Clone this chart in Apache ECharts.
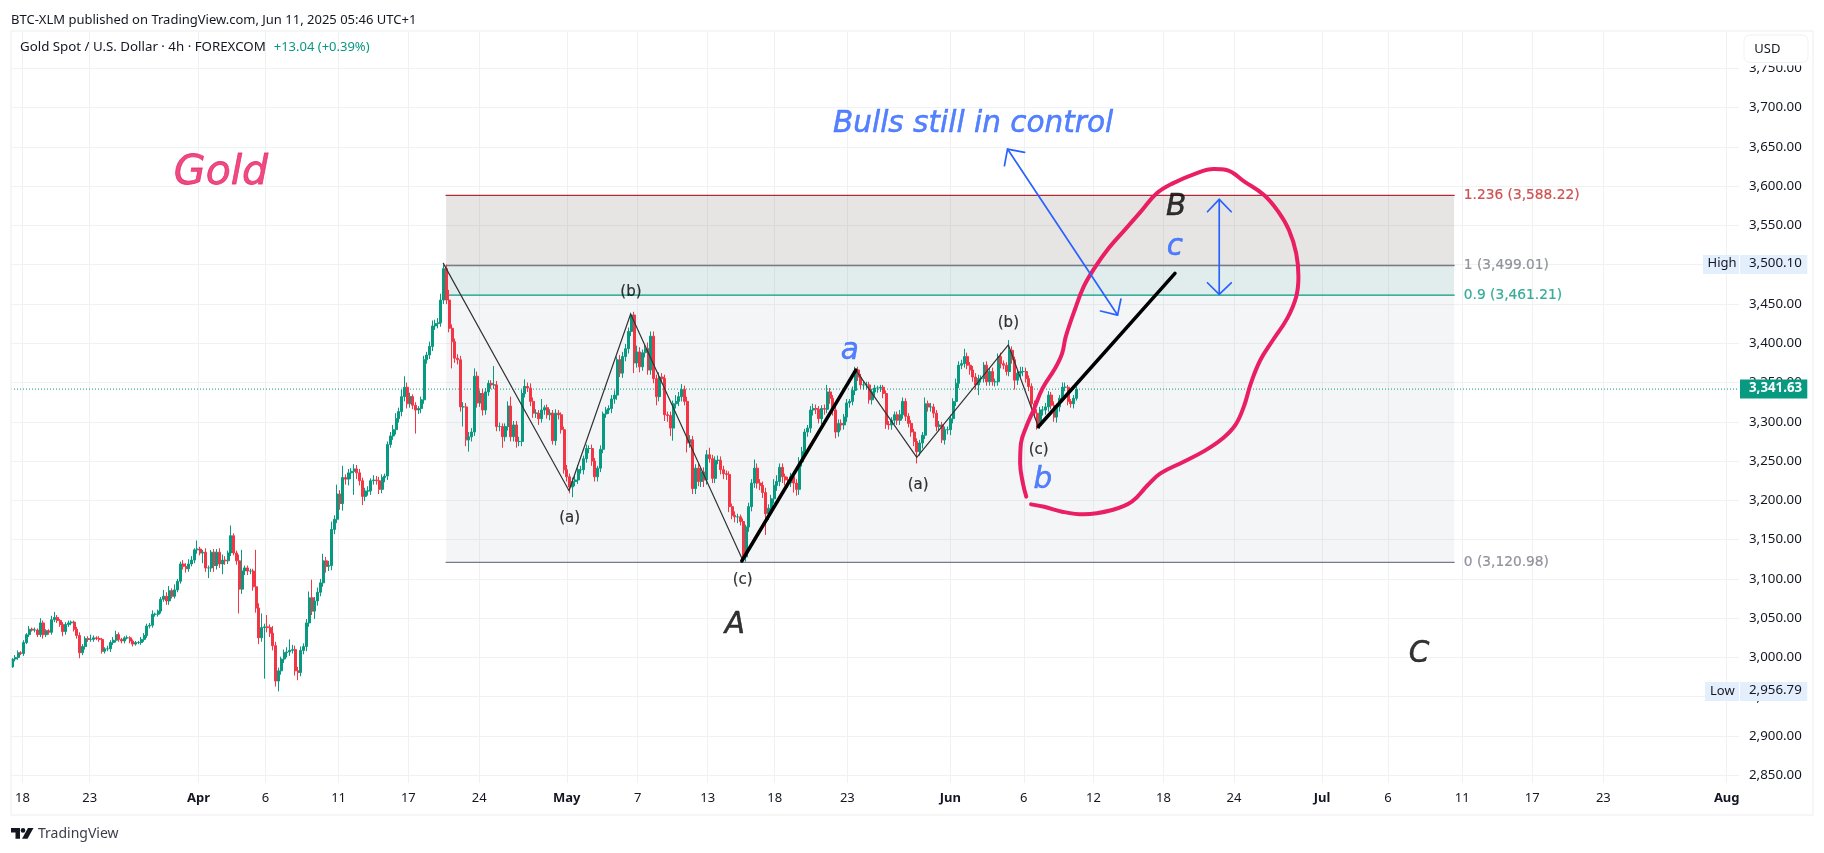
<!DOCTYPE html>
<html><head><meta charset="utf-8">
<style>html,body{margin:0;padding:0;background:#fff}#c{width:1824px;height:853px}</style>
<script src="https://cdn.jsdelivr.net/npm/echarts@6/dist/echarts.min.js"></script>
</head><body><div id="c"></div>
<script>
// ---- values ----
const firstOpen = 2988;
const closes = [
2998,3000,3006,3005,3019,3029,3036,3035,3035,3029,3044,3029,3034,3032,3048,3051,3047,3042,3033,3042,
3044,3045,3036,3028,3006,3014,3024,3023,3023,3025,3024,3023,3008,3011,3011,3019,3022,3029,3023,3021,
3025,3025,3021,3017,3019,3019,3023,3028,3040,3041,3055,3055,3059,3074,3078,3072,3085,3078,3086,3097,
3119,3116,3113,3119,3124,3137,3138,3133,3134,3114,3114,3134,3117,3134,3119,3124,3123,3133,3155,3133,
3123,3087,3110,3114,3110,3110,3090,3063,3025,3038,3039,3038,3031,3015,2970,2983,2998,3006,3007,3009,
3010,2983,2981,3009,3014,3044,3076,3059,3072,3083,3095,3123,3116,3117,3163,3176,3208,3196,3229,3227,
3235,3237,3240,3235,3225,3205,3212,3212,3225,3226,3225,3214,3229,3231,3271,3282,3290,3304,3313,3332,
3344,3323,3332,3321,3315,3317,3328,3379,3385,3396,3422,3425,3426,3455,3495,3455,3419,3402,3381,3379,
3319,3319,3277,3281,3287,3358,3324,3336,3315,3338,3349,3347,3347,3294,3294,3281,3294,3320,3281,3296,
3275,3275,3336,3345,3343,3326,3311,3311,3304,3315,3318,3309,3311,3276,3311,3309,3290,3239,3230,3217,
3224,3226,3239,3239,3253,3266,3266,3250,3230,3241,3265,3310,3315,3317,3329,3334,3379,3362,3383,3393,
3415,3436,3375,3389,3370,3388,3393,3366,3409,3355,3332,3357,3355,3309,3308,3292,3323,3326,3332,3341,
3326,3273,3277,3215,3241,3224,3236,3226,3258,3253,3228,3251,3251,3239,3234,3233,3192,3181,3179,3179,
3173,3128,3166,3192,3222,3241,3222,3219,3210,3183,3190,3202,3219,3224,3242,3230,3226,3222,3230,3222,
3214,3249,3262,3287,3292,3315,3317,3316,3304,3317,3316,3338,3330,3315,3287,3298,3296,3306,3324,3326,
3340,3366,3357,3347,3347,3347,3328,3338,3343,3343,3344,3336,3297,3296,3302,3309,3302,3309,3326,3307,
3298,3287,3275,3262,3273,3283,3323,3319,3319,3311,3294,3296,3277,3290,3290,3304,3326,3349,3372,3374,
3383,3372,3366,3357,3347,3355,3355,3372,3351,3364,3351,3351,3383,3374,3372,3364,3391,3379,3353,3362,
3364,3364,3355,3345,3323,3311,3296,3315,3315,3319,3334,3321,3306,3319,3330,3344,3344,3326,3323,3330,
3341.63];
const upperWicks = [
1,3,3,2,3,2,4,2,3,2,6,3,2,2,5,7,3,2,3,3,
3,2,2,3,4,3,3,3,6,3,2,3,2,2,4,3,4,5,3,2,
2,3,2,2,2,2,3,3,3,3,5,2,2,3,8,5,6,3,7,3,
3,5,4,6,5,2,11,3,3,5,3,3,4,4,5,7,5,3,13,3,
3,8,27,3,3,3,3,47,6,18,4,15,4,9,5,4,3,4,6,14,
6,5,5,5,4,5,8,23,5,6,5,9,5,6,10,5,12,5,15,4,
5,4,6,5,5,4,4,6,3,6,5,5,4,3,4,5,6,7,5,9,
14,6,5,3,4,3,4,5,4,6,7,5,6,8,5,5.1,13,5,4,5,
5,6,5,6,5,10,6,4,6,5,4,4,24,5,5,4,4,6,12,5,
5,6,5,9,5,6,5,5,4,14,3,4,5,4,5,4,3,4,6,4,
5,6,6,5,4,5,4,5,4,3,5,3,4,4,5,6,4,6,6,6,
5,3,4,8,6,4,5,8,6,6,5,6,5,5,4,5,4,8,6,7,
5,6,6,5,5,6,5,6,6,9,5,5,6,5,5,4,4,4,5,4,
3,4,3,5,5,11,6,5,5,6,5,5,8,8,5,5,4,4,5,5,
5,6,6,4,4,5,6,5,4,4,5,9,5,4,5,5,5,4,5,3,
5,4,4,4,4,4,4,4,4,3,3,3,4,4,4,4,4,6,5,4,
4,4,4,4,4,4,8,4,5,4,4,5,4,4,4,5,4,6,5,5,
10,5,4,5,5,5,4,4,5,4,5,4,4,5,4,4,13,5,4,5,
6,6,5,4,4,4,5,4,5,5,5,4,5,4,4,6,6,3,3,4,
3];
const lowerWicks = [
1,3,3,2,3,2,3,2,3,3,3,5,3,3,3,3,3,3,6,4,
3,3,3,4,7,3,4,3,3,3,2,3,3,3,3,4,3,3,3,3,
3,2,3,3,2,2,3,3,3,3,3,3,3,3,3,5,5,3,3,3,
3,4,5,4,3,4,5,3,13,5,13,5,8,5,5,13,5,4,4,3,
5,31,6,5,5,4,5,6,8,5,65,6,5,6,7,13.2,5,5,6,5,
4,6,10,5,5,6,5,5,10,6,5,5,8,6,6,6,5,8,9,7,
8,8,30,8,6,11,6,6,5,5,5,6,5,6,5,4,5,6,5,6,
6,6,5,5,30,5,6,5,5,5,6,5,6,5,5,5,5,34,6,6,
6,25,8,15,6,5,6,5,7,6,5,5,5,6,6,14,6,5,6,6,
8,6,6,5,5,6,6,6,8,5,6,5,7,5,6,6,5,5,6,8,
13,6,5,5,6,5,6,6,6,6,5,5,5,5,6,6,6,5,6,6,
6,6,13,6,7,5,6,6,6,6,11,6,6,8,8,10,16,6,6,6,
5,12,6,7,7,6,7,9,6,5,6,6,5,6,7,7,7,5,7,8,
5,7,6,6,6,6,7,6,7,27,8,7,6,7,6,8,7,6,5,12,
8,7,6,6,6,6,7,6,6,7,7,5,7,7,8,6,7,6,6,6,
5,6,5,5,6,6,5,6,6,6,5,6,6,6,6,5,6,6,5,6,
5,6,6,15,5,7,5,6,6,6,6,5,4,6,6,7,6,6,6,5,
5,5,6,6,6,13,5,5,5,5,5,6,5,6,5,5,6,5,12,6,
5,6,5,6,6,6,6,5,7,6,6,5,6,7,6,5,5,5,5,6,
3];
// time axis: positions in bars, and their labels
const xTicks = [3.6,27.6,66.5,90.4,116.5,141.4,166.75,198,223.3,248.3,272.25,298.2,335,361.2,386.1,411.1,436.3,467.7,491.3,517.8,542.8,568.2,612.25];
const xTickLabels = ['18','23','Apr','6','11','17','24','May','7','13','18','23','Jun','6','12','18','24','Jul','6','11','17','23','Aug'];
const yTicks = [2850,2900,2950,3000,3050,3100,3150,3200,3250,3300,3350,3400,3450,3500,3550,3600,3650,3700,3750];
const lastPrice = 3341.63, highPrice = 3500.10, lowPrice = 2956.79;
// fibonacci tool
const fibRange = [154.9, 514.9];
const fibLevels = [3588.22, 3499.01, 3461.21, 3120.98];
const fibRatios = ['1.236','1','0.9','0'];
const fibLabelBar = 518.2;
// drawings, [bar, price]
const waveA = [[153.9,3501.7],[198.8,3212.3],[220.8,3437.2],[260.8,3124.1]];
const waveB = [[301.2,3365.9],[323,3254.8],[355.7,3397.8],[366.4,3293.7]];
const thickA = [[260.5,3122.8],[301.2,3365.9]];
const thickC = [[366.4,3293.7],[415.2,3489]];
const arrowDiag = [[355.4,3647.2],[394.7,3435.9]];
const arrowDiagHeadTop = [[354.3,3626],[355.4,3647.2],[361.5,3643]];
const arrowDiagHeadBottom = [[395.9,3456.3],[394.7,3435.9],[388.6,3441]];
const arrowVert = [[431,3583.2],[431,3462.3]];
const arrowVertHeadTop = [[426.8,3567.4],[431,3583.2],[435.3,3567.4]];
const arrowVertHeadBottom = [[426.8,3477],[431,3462.3],[435.3,3477]];
const pinkPath = [[362.1,3204.7],[360.9,3221.7],[359.9,3247.1],[360.2,3272.6],[362.1,3293.8],[364.7,3315],[367.9,3342.6],[372.4,3368.1],[374.9,3387.1],[376.2,3408.4],[379.4,3442.3],[382.6,3472],[386.4,3495.3],[391.5,3520.8],[397.2,3544.1],[403,3567.5],[408.7,3590.8],[414.4,3603.5],[422.1,3615.4],[429.1,3621.8],[433.6,3620.5],[440,3605.7],[447,3588.7],[452.1,3567.5],[455.9,3544.1],[458.5,3514.4],[459.3,3484.7],[458.5,3459.3],[455.3,3431.7],[450.2,3404.1],[445.7,3378.7],[442.3,3349],[440,3321.4],[436.8,3296],[432.3,3279],[425.9,3263.3],[418.3,3249.2],[410,3234.4],[405.5,3219.6],[399.8,3198.3],[392.8,3187.7],[382.6,3182.2],[374.9,3185.6],[368.5,3191.9],[363.8,3194.9]];
// text notes: text, bar, price
const noteTexts = ['Gold','Bulls still in control','B','c','a','b','A','C','(a)','(a)','(b)','(b)','(c)','(c)'];
const noteBars = [74.5,343.1,415.6,415.2,299.1,368,258,502.4,199,323.5,220.9,355.7,260.8,366.5];
const notePrices = [3616,3678.5,3572.7,3522,3390,3225.5,3040.5,3003.5,3177.5,3220,3464.5,3426,3098.5,3264];
const noteKinds = ['gold','blueBig','blackBig','blueBig','blueBig','blueBig','blackBig','blackBig','small','small','small','small','small','small'];

// ---- styles ----
const FONT = '"Noto Sans", sans-serif';
const DEJA = '"DejaVu Sans", sans-serif';
const UP = '#089981', DOWN = '#F23645', BLUE = '#2962FF', PINK = '#E91E63';
const noteStyle = {
  gold:{fontSize:41,fontStyle:'italic',color:PINK,fontFamily:DEJA,textBorderColor:PINK,textBorderWidth:0.8},
  blueBig:{fontSize:29.5,fontStyle:'italic',color:BLUE,fontFamily:DEJA,textBorderColor:BLUE,textBorderWidth:0.5},
  blackBig:{fontSize:29.5,fontStyle:'italic',color:'#000',fontFamily:DEJA,textBorderColor:'#000',textBorderWidth:0.5},
  small:{fontSize:15,color:'#000',fontFamily:DEJA,textBorderColor:'#000',textBorderWidth:0.2}
};
const fibColors = ['#B22833','#787B86','#089981','#787B86'];
const fibLabelColors = ['#C62828','#787B86','#089981','#787B86'];
const money = v => v.toLocaleString('en-US',{minimumFractionDigits:2,maximumFractionDigits:2});

// ---- bars ----
const bars = closes.map((c,i)=>{
  const o = i ? closes[i-1] : firstOpen;
  return [i,o,c,Math.min(o,c)-lowerWicks[i],Math.max(o,c)+upperWicks[i]];
});
const poly = (data,color,width,z,extra) => Object.assign({type:'line',data,symbol:'none',silent:true,z,
  lineStyle:{color,width,cap:'round',join:'round'},animation:false},extra||{});

const chart = echarts.init(document.getElementById('c'),null,{renderer:'canvas'});
const xMin=-0.5, xMax=616.64;
const fibSeries = fibLevels.map((lv,k)=>poly(fibRange.map(b=>[b,lv]),fibColors[k],1.3,2));
chart.setOption({
  animation:false,
  backgroundColor:'#fff',
  textStyle:{fontFamily:FONT},
  grid:{left:11,right:85,top:31,bottom:70,containLabel:false},
  xAxis:{type:'value',min:xMin,max:xMax,
    axisLine:{show:false},
    axisTick:{show:false,customValues:xTicks},
    splitLine:{show:true,lineStyle:{color:'#F0F1F3',width:1}},
    axisLabel:{show:true,customValues:xTicks,margin:9,fontSize:13,color:'#131722',fontFamily:FONT,hideOverlap:false,
      showMinLabel:true,showMaxLabel:true,
      formatter:v=>{const s=xTickLabels[xTicks.indexOf(v)];return /[a-z]/i.test(s)?'{m|'+s+'}':s;},
      rich:{m:{fontWeight:'bold',fontSize:13,color:'#131722',fontFamily:FONT}}}},
  yAxis:{type:'value',position:'right',min:2840.2,max:3797.5,
    axisLine:{show:false},
    axisTick:{show:false,customValues:yTicks},
    splitLine:{show:true,lineStyle:{color:'#F0F1F3',width:1}},
    axisLabel:{show:true,customValues:yTicks,margin:10,fontSize:13.3,color:'#131722',fontFamily:FONT,align:'left',hideOverlap:false,
      formatter:v=>money(v)}},
  series:[
    {type:'line',data:[],z:1,silent:true,markArea:{silent:true,z:1,data:[
      [{coord:[fibRange[0],fibLevels[0]],itemStyle:{color:'rgba(130,125,115,0.2)'}},{coord:[fibRange[1],fibLevels[1]]}],
      [{coord:[fibRange[0],fibLevels[1]],itemStyle:{color:'rgba(55,135,135,0.15)'}},{coord:[fibRange[1],fibLevels[2]]}],
      [{coord:[fibRange[0],fibLevels[2]],itemStyle:{color:'rgba(135,155,175,0.1)'}},{coord:[fibRange[1],fibLevels[3]]}]
    ]}},
    ...fibSeries,
    poly([[xMin,lastPrice],[xMax-0.6,lastPrice]],UP,1,2,{lineStyle:{color:UP,width:1,type:[1,2]}}),
    {type:'candlestick',data:bars,barWidth:2.5,z:3,silent:true,animation:false,
      itemStyle:{color:UP,color0:DOWN,borderColor:UP,borderColor0:DOWN,borderWidth:1}},
    poly(waveA,'#333',1.2,4),
    poly(waveB,'#333',1.2,4),
    poly(thickA,'#000',3.5,5),
    poly(thickC,'#000',3.5,5),
    poly(pinkPath,PINK,4,6,{smooth:0.4}),
    poly(arrowDiag,BLUE,1.7,6),
    poly(arrowDiagHeadTop,BLUE,1.7,6),
    poly(arrowDiagHeadBottom,BLUE,1.7,6),
    poly(arrowVert,BLUE,1.7,6),
    poly(arrowVertHeadTop,BLUE,1.7,6),
    poly(arrowVertHeadBottom,BLUE,1.7,6),
    {type:'scatter',symbolSize:1,z:7,silent:true,itemStyle:{color:'transparent'},
      data:noteTexts.map((t,k)=>({value:[noteBars[k],notePrices[k]],
        label:Object.assign({show:true,position:'inside',formatter:t},noteStyle[noteKinds[k]])}))},
    {type:'scatter',symbolSize:1,z:7,silent:true,itemStyle:{color:'transparent'},
      data:fibLevels.map((lv,k)=>({value:[fibLabelBar,lv],
        label:{show:true,position:'right',distance:0,fontFamily:DEJA,fontSize:13.75,color:fibLabelColors[k],
          textBorderColor:fibLabelColors[k],textBorderWidth:0.2,
          formatter:fibRatios[k]+' ('+money(lv)+')'}}))}
  ]
});

// ---- page chrome ----
const Z=100;
const txt=(text,x,y,size,fill,extra)=>({type:'text',z:Z+1,silent:true,style:Object.assign({text,x,y,fill,fontSize:size,fontFamily:FONT,textVerticalAlign:'middle',textAlign:'left'},extra||{})});
const rect=(x,y,w,h,fill,extra)=>({type:'rect',z:Z,silent:true,shape:Object.assign({x,y,width:w,height:h},extra&&extra.shape||{}),style:Object.assign({fill},extra&&extra.style||{})});
const py=v=>chart.convertToPixel({yAxisIndex:0},v);
const yL=py(lastPrice),yH=py(highPrice),yLo=py(lowPrice);
chart.setOption({graphic:{elements:[
  rect(11,31,1802,784,'none',{style:{stroke:'#F3F3F3',lineWidth:1.5}}),
  txt('BTC-XLM published on TradingView.com, Jun 11, 2025 05:46 UTC+1',11,20,13,'#131722'),
  txt('Gold Spot / U.S. Dollar · 4h · FOREXCOM',20,47.5,13.3,'#131722'),
  txt('+13.04 (+0.39%)',273.7,47.5,13,UP),
  rect(1740,33,72,32.5,'#fff'),
  rect(1744,35,64,27.5,'#fff',{shape:{r:6},style:{stroke:'#F0F1F3',lineWidth:1}}),
  txt('USD',1754.3,49,13,'#131722'),
  rect(1703,yH-9.5,36,19,'#E3EFFD'),
  rect(1740,yH-9.5,67.3,19,'#E3EFFD'),
  txt('High',1707.5,yH-1,13,'#131722'),
  txt(money(highPrice),1749,yH-1,13.3,'#131722'),
  rect(1705,yLo-9.5,34,19,'#E3EFFD'),
  rect(1740,yLo-9.5,67.3,19,'#E3EFFD'),
  txt('Low',1710,yLo,13,'#131722'),
  txt(money(lowPrice),1749,yLo-1,13.3,'#131722'),
  rect(1740,yL-9.5,67.3,19,UP),
  txt(money(lastPrice),1749,yL-1,13.3,'#fff',{fontWeight:'bold'}),
  {type:'polygon',z:Z,silent:true,shape:{points:[[11,828],[20,828],[20,838.7],[15.5,838.7],[15.5,832.5],[11,832.5]]},style:{fill:'#131722'}},
  {type:'circle',z:Z,silent:true,shape:{cx:23,cy:830.4,r:2.3},style:{fill:'#131722'}},
  {type:'polygon',z:Z,silent:true,shape:{points:[[28,828],[33.5,828],[27.5,838.7],[22,838.7]]},style:{fill:'#131722'}},
  txt('TradingView',38,834,14,'#3a3e49')
]}});
</script></body></html>
